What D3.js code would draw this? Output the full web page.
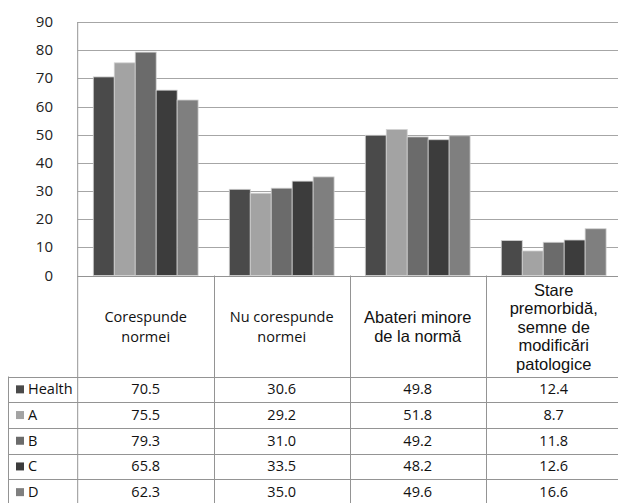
<!DOCTYPE html>
<html><head><meta charset="utf-8">
<script src="https://cdn.jsdelivr.net/npm/d3@7"></script>
<style>body{margin:0;background:#fff}svg{display:block}</style>
</head><body>
<svg id="c" width="618" height="503"></svg>
<script>
const categories = [
  ["Corespunde", "normei"],
  ["Nu corespunde", "normei"],
  ["Abateri minore", "de la normă"],
  ["Stare", "premorbidă,", "semne de", "modificări", "patologice"]
];
const categoryFonts = ["Open Sans", "Open Sans", "Liberation Sans", "Liberation Sans"];
const seriesNames = ["Health", "A", "B", "C", "D"];
const seriesColors = ["#4a4a4a", "#a3a3a3", "#6b6b6b", "#3c3c3c", "#7f7f7f"];
const valuesHealth = [70.5, 30.6, 49.8, 12.4];
const valuesA = [75.5, 29.2, 51.8, 8.7];
const valuesB = [79.3, 31.0, 49.2, 11.8];
const valuesC = [65.8, 33.5, 48.2, 12.6];
const valuesD = [62.3, 35.0, 49.6, 16.6];
const yTicks = [0, 10, 20, 30, 40, 50, 60, 70, 80, 90];

const series = [valuesHealth, valuesA, valuesB, valuesC, valuesD];
const svg = d3.select("#c");

const plotLeft = 77.7, bandW = 136, plotTop = 22, zeroY = 275.5;
const tableTop = 376.5, rowH = 25.7;

const x = d3.scaleBand().domain(d3.range(categories.length)).range([plotLeft, plotLeft + bandW * categories.length]).padding(0);
const xi = d3.scaleBand().domain(d3.range(seriesNames.length)).range([15.6, bandW - 15.6]).padding(0);
const y = d3.scaleLinear().domain([0, 90]).range([zeroY, plotTop]);

// gridlines
svg.append("g").selectAll("line").data(yTicks).join("line")
  .attr("x1", plotLeft).attr("x2", 618)
  .attr("y1", d => Math.round(y(d)) + 0.5).attr("y2", d => Math.round(y(d)) + 0.5)
  .attr("stroke", "#a6a6a6").attr("stroke-width", 1);

// y axis labels
svg.append("g").selectAll("text").data(yTicks).join("text")
  .attr("x", 53).attr("y", d => y(d) + 5)
  .attr("text-anchor", "end")
  .attr("font-family", "Open Sans").attr("font-size", 15).attr("fill", "#222")
  .text(d => d);

// bars
series.forEach((vals, si) => {
  svg.append("g").selectAll("rect").data(vals).join("rect")
    .attr("x", (d, ci) => x(ci) + xi(si))
    .attr("y", d => y(d))
    .attr("width", xi.bandwidth())
    .attr("height", d => zeroY - y(d))
    .attr("fill", seriesColors[si])
    .attr("stroke", "#d0d0d0").attr("stroke-width", 0.8);
});

// axis + table lines
const lineColor = "#949494";
const xEdge = i => plotLeft + bandW * i;
svg.append("line").attr("x1", plotLeft).attr("x2", plotLeft).attr("y1", plotTop).attr("y2", 503)
  .attr("stroke", lineColor);
svg.append("line").attr("x1", plotLeft).attr("x2", 618).attr("y1", Math.round(zeroY) + 0.5).attr("y2", Math.round(zeroY) + 0.5)
  .attr("stroke", lineColor);
svg.append("g").selectAll("line").data(d3.range(1, categories.length + 1)).join("line")
  .attr("x1", d => Math.round(xEdge(d)) + 0.5)
  .attr("x2", d => Math.round(xEdge(d)) + 0.5)
  .attr("y1", zeroY).attr("y2", 503)
  .attr("stroke", lineColor);
svg.append("line").attr("x1", 8.5).attr("x2", 8.5).attr("y1", tableTop).attr("y2", 503).attr("stroke", lineColor);
svg.append("g").selectAll("line").data(d3.range(seriesNames.length)).join("line")
  .attr("x1", 8).attr("x2", 618)
  .attr("y1", d => Math.round(tableTop + d * rowH) + 0.5)
  .attr("y2", d => Math.round(tableTop + d * rowH) + 0.5)
  .attr("stroke", lineColor);

// category labels
categories.forEach((lines, ci) => {
  const n = lines.length;
  const lh = ci >= 2 ? 18.5 : 19.5;
  const cy = (zeroY + tableTop) / 2 + 1;
  const t = svg.append("text")
    .attr("text-anchor", "middle")
    .attr("font-family", categoryFonts[ci])
    .attr("font-size", ci >= 2 ? 16.5 : 14.5)
    .attr("fill", "#111");
  lines.forEach((l, li) => {
    t.append("tspan").attr("x", x(ci) + bandW / 2)
      .attr("y", cy + (li - (n - 1) / 2) * lh + (ci >= 2 ? 5.5 : 5))
      .text(l);
  });
});

// legend + values
seriesNames.forEach((name, si) => {
  const ry = tableTop + si * rowH;
  svg.append("rect").attr("x", 16).attr("y", ry + rowH / 2 - 4).attr("width", 8).attr("height", 8)
    .attr("fill", seriesColors[si]);
  svg.append("text").attr("x", 28).attr("y", ry + rowH / 2 + 5)
    .attr("font-family", "Open Sans").attr("font-size", 14.5).attr("fill", "#111")
    .text(name);
  svg.append("g").selectAll("text").data(series[si]).join("text")
    .attr("x", (d, ci) => x(ci) + bandW / 2)
    .attr("y", ry + rowH / 2 + 5)
    .attr("text-anchor", "middle")
    .attr("font-family", "Open Sans").attr("font-size", 14.5).attr("fill", "#111")
    .text(d => d.toFixed(1));
});
</script>
</body></html>
